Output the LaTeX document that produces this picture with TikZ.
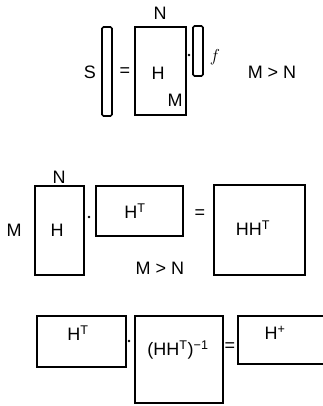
\documentclass[tikz,border=0pt]{standalone}
\usepackage{fontspec}
\setmainfont{Liberation Sans}
\usepackage{tikz}

\begin{document}
\begin{tikzpicture}[x=1pt, y=-1pt,
    every node/.style={inner sep=0pt, font=\fontsize{18}{20}\selectfont},
    mat/.style={draw, line width=1.6pt, minimum width=#1},
    bar/.style={draw, line width=1.6pt, rounded corners=1.5pt, minimum width=10pt},
    dotnode/.style={circle, fill, minimum size=2.8pt}]
  \useasboundingbox (0,0) rectangle (323,406);

  % S = H f
  \node (sbar) [bar, minimum height=89pt] at (107,71.5) {};
  \node (slabel) at (90,72) {S};
  \node (eqa) at (125,72) {=};
  \node (hbox) [mat=51pt, minimum height=88pt] at (160.5,71) {};
  \node (nlabel) at (160,13) {N};
  \node (hlabel) at (158,73) {H};
  \node (mlabel) at (175,100) {M};
  \node (dota) [dotnode] at (189,55) {};
  \node (fbar) [bar, minimum height=50pt] at (198,51) {};
  \node (flabel) at (215,57) {$f$};
  \node (conda) at (272,72) {M > N};

  % H H^T = HH^T
  \node (hboxb) [mat=49pt, minimum height=89pt] at (59.5,230.5) {};
  \node (nlabelb) at (59,177) {N};
  \node (mlabelb) at (14,230) {M};
  \node (hlabelb) at (57,230) {H};
  \node (dotb) [dotnode] at (89,217) {};
  \node (htbox) [mat=87pt, minimum height=50pt] at (139.5,211) {};
  \node (htlabel) at (135,211) {H\textsuperscript{T}};
  \node (eqb) at (200,214) {=};
  \node (hhtbox) [mat=91pt, minimum height=90pt] at (259.5,230) {};
  \node (hhtlabel) at (253,228) {HH\textsuperscript{T}};
  \node (condb) at (160,268) {M > N};

  % H^T (HH^T)^-1 = H^+
  \node (htboxc) [mat=89pt, minimum height=51pt] at (81.5,341.5) {};
  \node (htlabelc) at (78,333) {H\textsuperscript{T}};
  \node (dotc) [dotnode] at (129,341) {};
  \node (invbox) [mat=88pt, minimum height=87pt] at (179,359.5) {};
  \node (invlabel) at (178,350) {(HH\textsuperscript{T})\textsuperscript{−1}};
  \node (eqc) at (230,347) {=};
  \node (hpbox) [mat=88pt, minimum height=48pt] at (282,340) {};
  \node (hplabel) at (275,333) {H\textsuperscript{+}};
\end{tikzpicture}
\end{document}
